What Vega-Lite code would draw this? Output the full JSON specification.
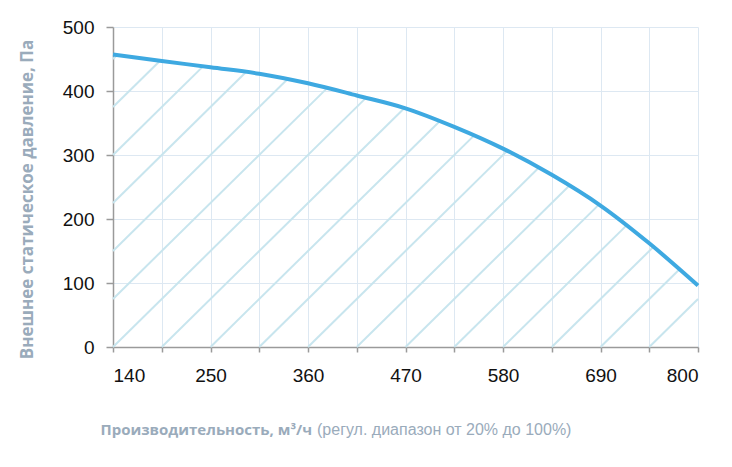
{
  "$schema": "https://vega.github.io/schema/vega-lite/v6.json",
  "width": 585,
  "height": 320,
  "autosize": "none",
  "padding": {"left": 113, "top": 27, "right": 34, "bottom": 120},
  "background": "white",
  "datasets": {
    "curve": [
      {"flow": 140, "pressure": 457},
      {"flow": 195, "pressure": 447},
      {"flow": 250, "pressure": 437},
      {"flow": 305, "pressure": 427},
      {"flow": 360, "pressure": 412},
      {"flow": 415, "pressure": 393},
      {"flow": 470, "pressure": 373},
      {"flow": 525, "pressure": 344},
      {"flow": 580, "pressure": 310},
      {"flow": 635, "pressure": 269},
      {"flow": 690, "pressure": 221},
      {"flow": 745, "pressure": 162},
      {"flow": 800, "pressure": 96}
    ],
    "hatch": [
      {"x0": 140, "y0": 450, "x1": 144.5, "y1": 456},
      {"x0": 140, "y0": 375, "x1": 193.1, "y1": 447.4},
      {"x0": 140, "y0": 300, "x1": 241.6, "y1": 438.5},
      {"x0": 140, "y0": 225, "x1": 290.1, "y1": 429.7},
      {"x0": 140, "y0": 150, "x1": 336.8, "y1": 418.4},
      {"x0": 140, "y0": 75, "x1": 381.6, "y1": 404.5},
      {"x0": 140, "y0": 0, "x1": 425.4, "y1": 389.2},
      {"x0": 195, "y0": 0, "x1": 468.9, "y1": 373.5},
      {"x0": 250, "y0": 0, "x1": 508.6, "y1": 352.6},
      {"x0": 305, "y0": 0, "x1": 547.2, "y1": 330.3},
      {"x0": 360, "y0": 0, "x1": 584.7, "y1": 306.4},
      {"x0": 415, "y0": 0, "x1": 620.3, "y1": 280},
      {"x0": 470, "y0": 0, "x1": 654.7, "y1": 251.9},
      {"x0": 525, "y0": 0, "x1": 688.2, "y1": 222.5},
      {"x0": 580, "y0": 0, "x1": 719.1, "y1": 189.7},
      {"x0": 635, "y0": 0, "x1": 749.7, "y1": 156.4},
      {"x0": 690, "y0": 0, "x1": 778.9, "y1": 121.2},
      {"x0": 745, "y0": 0, "x1": 800, "y1": 75}
    ]
  },
  "title": {
    "text": "(регул. диапазон от 20% до 100%)",
    "orient": "bottom",
    "anchor": "start",
    "frame": "group",
    "baseline": "alphabetic",
    "dx": 204,
    "offset": -2,
    "font": "Liberation Sans",
    "fontSize": 16,
    "fontWeight": "normal",
    "color": "#9aabbb"
  },
  "layer": [
    {
      "data": {"name": "hatch"},
      "mark": {"type": "rule", "color": "#c8e5ee", "strokeWidth": 2},
      "encoding": {
        "x": {"field": "x0", "type": "quantitative"},
        "y": {"field": "y0", "type": "quantitative"},
        "x2": {"field": "x1"},
        "y2": {"field": "y1"}
      }
    },
    {
      "data": {"name": "curve"},
      "mark": {"type": "line", "color": "#3ea9e1", "strokeWidth": 4, "interpolate": "monotone"},
      "encoding": {
        "x": {
          "field": "flow",
          "type": "quantitative",
          "scale": {"domain": [140, 800], "nice": false, "zero": false},
          "axis": {
            "values": [140, 195, 250, 305, 360, 415, 470, 525, 580, 635, 690, 745, 800],
            "labelExpr": "(datum.value - 140) % 110 === 0 ? datum.label : ''",
            "title": "Производительность, м³/ч",
            "titleX": -13,
            "titleY": 87,
            "titleAlign": "left",
            "titleBaseline": "alphabetic",
            "titleFont": "Open Sans",
            "titleFontSize": 15,
            "titleFontWeight": "bold",
            "titleColor": "#9aabbb",
            "labelPadding": 14,
            "tickSize": 5
          }
        },
        "y": {
          "field": "pressure",
          "type": "quantitative",
          "scale": {"domain": [0, 500], "nice": false},
          "axis": {
            "values": [0, 100, 200, 300, 400, 500],
            "title": "Внешнее статическое давление, Па",
            "titleX": -86,
            "titleY": 172,
            "titleAlign": "center",
            "titleBaseline": "middle",
            "titleFont": "Open Sans",
            "titleFontSize": 17,
            "titleFontWeight": "bold",
            "titleColor": "#9aabbb",
            "labelPadding": 12,
            "tickSize": 7
          }
        }
      }
    }
  ],
  "config": {
    "view": {"stroke": null},
    "axis": {
      "grid": true,
      "gridColor": "#dde8f2",
      "gridWidth": 1,
      "domainColor": "#9a9a9a",
      "domainWidth": 1.5,
      "tickColor": "#9a9a9a",
      "tickWidth": 1.5,
      "labelFont": "Liberation Sans",
      "labelFontSize": 19,
      "labelColor": "#111111"
    }
  }
}
